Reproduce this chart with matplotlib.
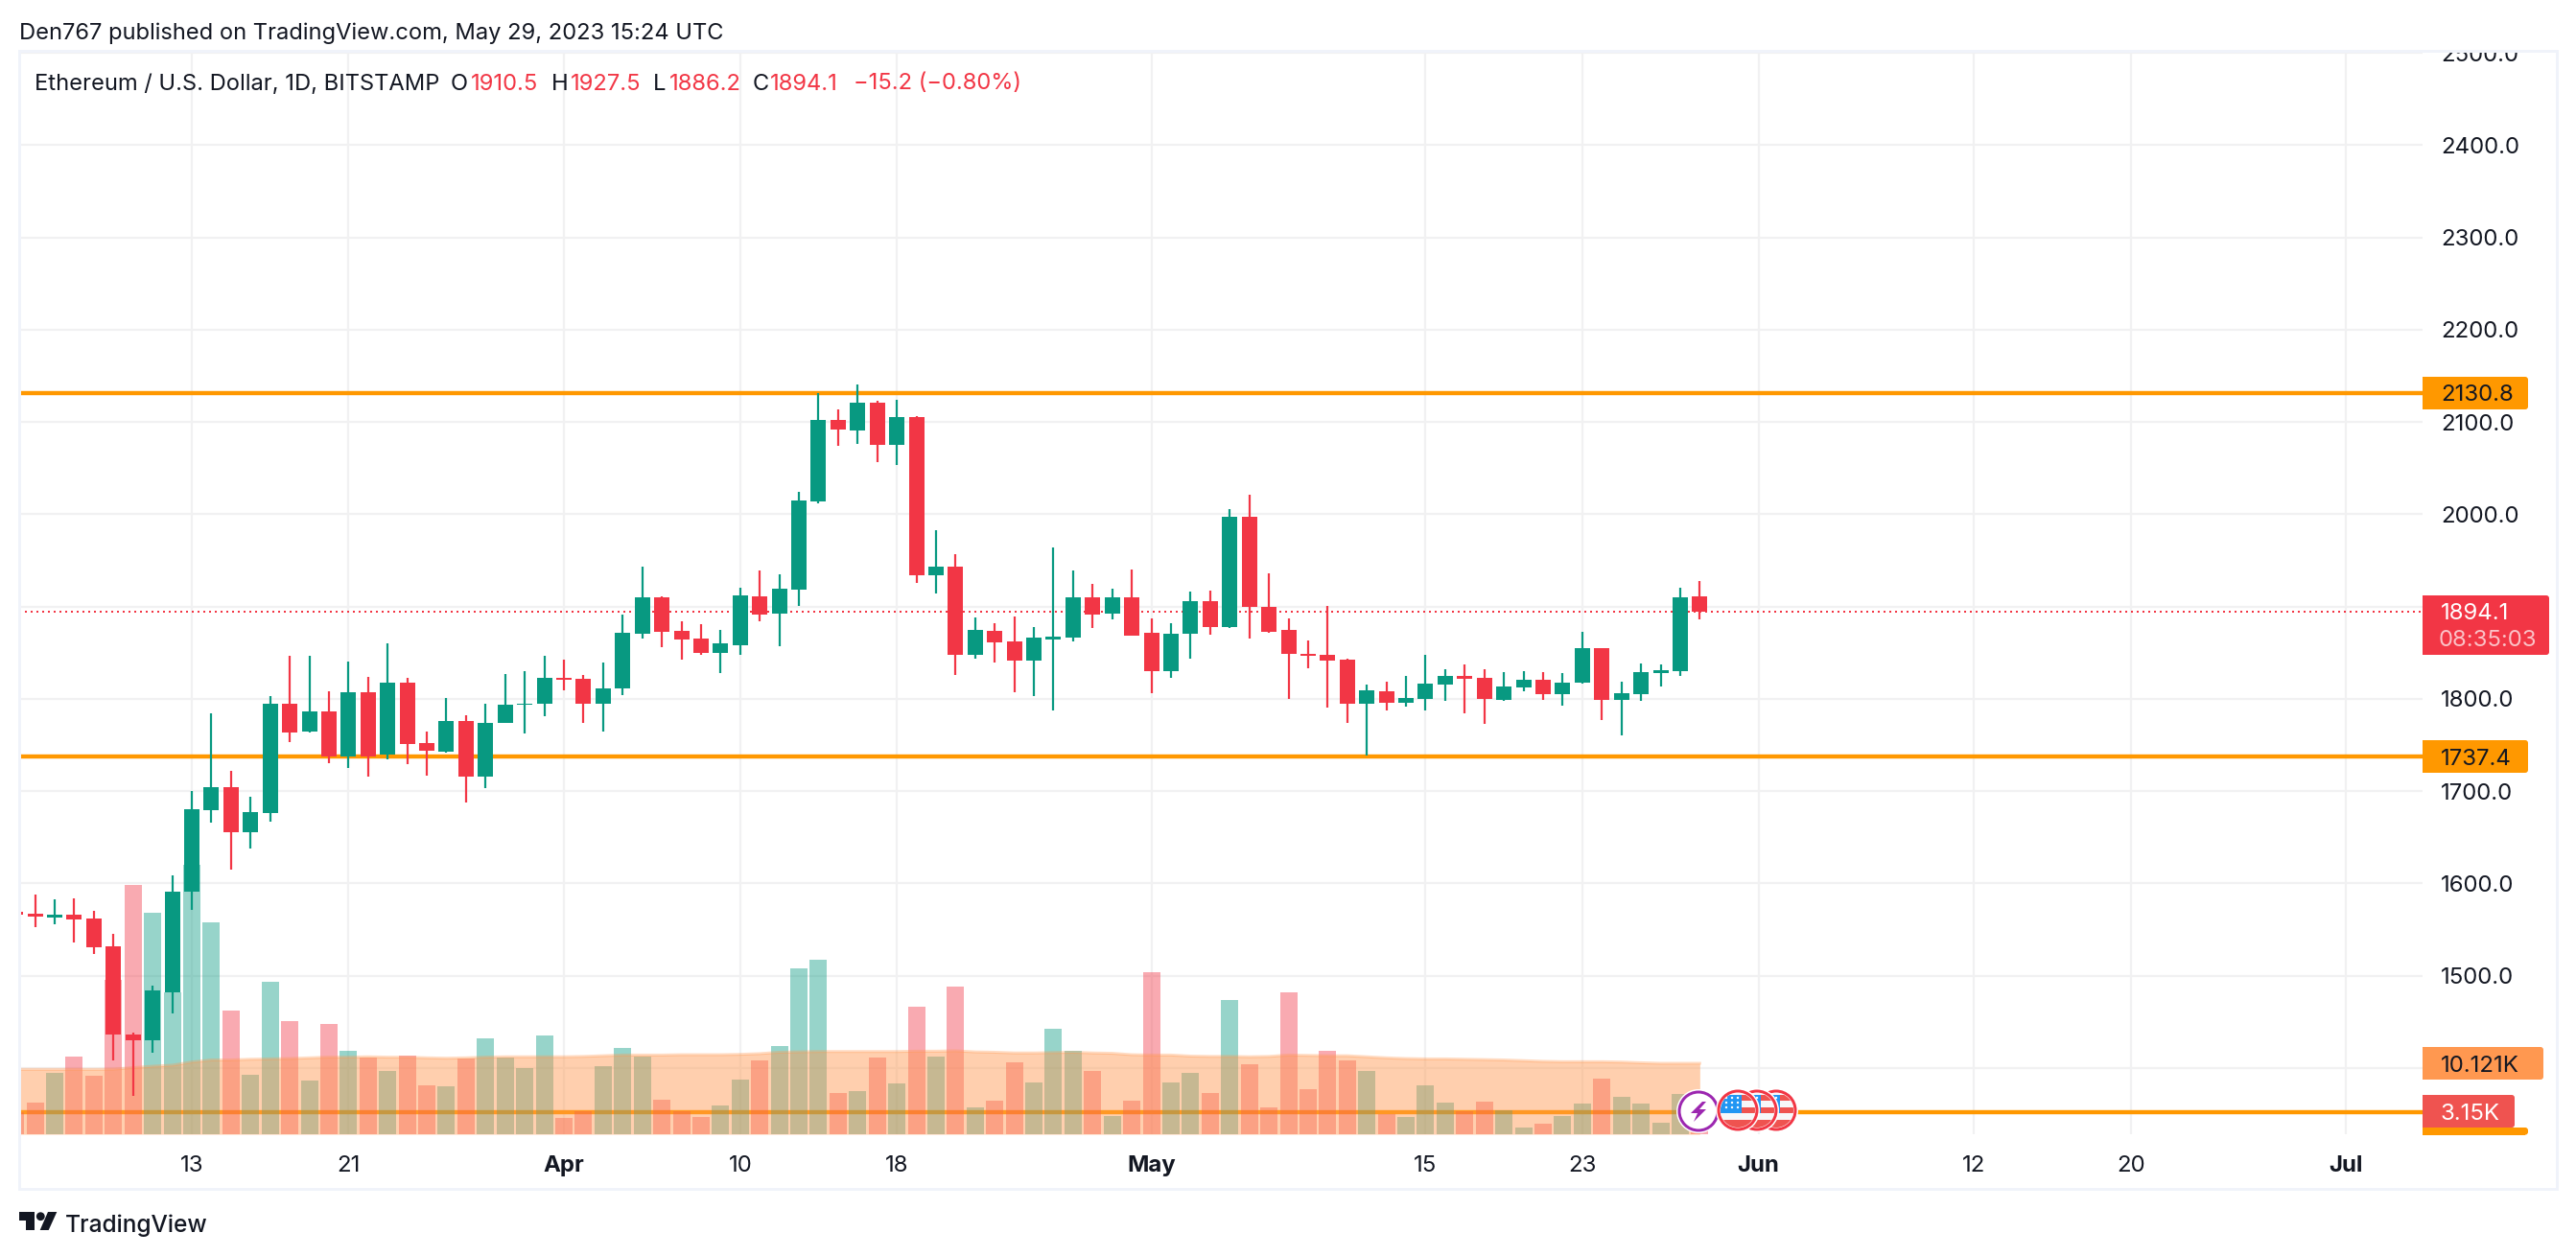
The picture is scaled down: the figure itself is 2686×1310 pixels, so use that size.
from matplotlib import pyplot as plt
from matplotlib.patches import Rectangle, Circle, Polygon, FancyBboxPatch

plt.rcParams['font.family'] = ['Inter', 'DejaVu Sans']

# days counted from Mar 1 2023
first_day = 3
opens = [1569, 1567, 1563, 1566, 1562, 1532, 1436, 1430, 1482, 1591,
         1679, 1704, 1655, 1676, 1795, 1764, 1786, 1737, 1807, 1739,
         1817, 1752, 1743, 1776, 1716, 1774, 1793, 1795, 1823, 1822,
         1795, 1811, 1870, 1910, 1874, 1865, 1850, 1858, 1911, 1892,
         1918, 2014, 2102, 2091, 2121, 2075, 2105, 1934, 1943, 1848,
         1874, 1862, 1841, 1864, 1866, 1910, 1892, 1910, 1871, 1830,
         1870, 1906, 1878, 1997, 1900, 1875, 1849, 1848, 1842, 1795,
         1808, 1796, 1800, 1815, 1825, 1823, 1799, 1812, 1821, 1805,
         1817, 1855, 1799, 1805, 1828, 1830, 1910.5]
highs = [1572, 1588, 1583, 1584, 1570, 1545, 1438, 1489, 1609, 1700,
         1784, 1722, 1694, 1803, 1846, 1846, 1808, 1840, 1824, 1860,
         1823, 1764, 1801, 1782, 1795, 1827, 1830, 1846, 1842, 1826,
         1839, 1891, 1943, 1911, 1884, 1881, 1875, 1920, 1939, 1935,
         2024, 2131, 2113, 2141, 2123, 2124, 2106, 1983, 1957, 1888,
         1882, 1889, 1878, 1964, 1939, 1924, 1919, 1940, 1887, 1882,
         1916, 1917, 2005, 2021, 1936, 1887, 1863, 1901, 1843, 1815,
         1818, 1825, 1848, 1832, 1837, 1832, 1829, 1830, 1829, 1828,
         1872, 1855, 1818, 1838, 1837, 1920, 1927.5]
lows = [1562, 1552, 1556, 1536, 1523, 1408, 1370, 1416, 1459, 1571,
        1666, 1615, 1638, 1667, 1753, 1763, 1730, 1725, 1716, 1734,
        1729, 1717, 1742, 1688, 1703, 1774, 1762, 1781, 1809, 1774,
        1764, 1804, 1865, 1856, 1842, 1848, 1828, 1848, 1884, 1857,
        1901, 2012, 2074, 2076, 2056, 2053, 1925, 1914, 1826, 1843,
        1839, 1807, 1803, 1787, 1862, 1877, 1886, 1868, 1806, 1823,
        1843, 1869, 1877, 1865, 1871, 1800, 1833, 1790, 1774, 1738,
        1787, 1791, 1787, 1798, 1784, 1773, 1798, 1808, 1799, 1792,
        1816, 1777, 1760, 1798, 1813, 1825, 1886.2]
closes = [1566, 1564, 1566, 1561, 1531, 1436, 1430, 1484, 1591, 1680,
          1704, 1655, 1677, 1795, 1763, 1786, 1737, 1807, 1737, 1817,
          1751, 1744, 1776, 1716, 1774, 1793, 1795, 1823, 1821, 1795,
          1811, 1871, 1910, 1872, 1864, 1850, 1860, 1912, 1891, 1919,
          2015, 2102, 2092, 2121, 2075, 2105, 1934, 1943, 1848, 1875,
          1861, 1841, 1866, 1867, 1910, 1891, 1910, 1868, 1830, 1870,
          1906, 1878, 1997, 1899, 1872, 1849, 1847, 1841, 1795, 1809,
          1796, 1801, 1816, 1825, 1822, 1800, 1813, 1821, 1805, 1817,
          1855, 1799, 1806, 1829, 1831, 1910, 1894.1]
volumes = [3.1, 4.47, 8.71, 11.03, 8.3, 21.98, 35.5, 31.6, 20.2, 38.4,
           30.3, 17.6, 8.44, 21.7, 16.1, 7.6, 15.7, 11.86, 10.9, 8.98,
           11.17, 6.93, 6.79, 10.76, 13.63, 10.9, 9.39, 14.04, 2.28, 3.24,
           9.67, 12.27, 11.03, 4.88, 3.24, 2.42, 4.06, 7.75, 10.6, 12.54,
           23.6, 24.85, 5.84, 6.11, 10.9, 7.2, 18.15, 11.03, 21.0, 3.78,
           4.74, 10.2, 7.34, 15.0, 11.86, 8.98, 2.55, 4.74, 23.07, 7.34,
           8.71, 5.84, 19.1, 9.94, 3.78, 20.2, 6.38, 11.86, 10.49, 8.98,
           2.83, 2.42, 6.93, 4.47, 3.24, 4.6, 3.37, 0.91, 1.46, 2.55,
           4.33, 7.89, 5.29, 4.33, 1.6, 5.7, 3.15]
vol_ma = [9.26, 9.26, 9.26, 9.26, 9.26, 9.28, 9.5, 9.7, 9.85, 10.3,
          10.6, 10.6, 10.7, 10.75, 10.8, 10.9, 11.0, 11.0, 11.05, 11.0,
          11.0, 10.9, 10.85, 10.9, 11.0, 11.05, 11.05, 11.05, 11.05, 11.1,
          11.2, 11.3, 11.3, 11.3, 11.35, 11.35, 11.35, 11.4, 11.5, 11.7,
          11.75, 11.8, 11.8, 11.8, 11.8, 11.8, 11.85, 11.85, 11.9, 11.75,
          11.7, 11.6, 11.6, 11.65, 11.7, 11.6, 11.55, 11.35, 11.3, 11.3,
          11.15, 11.1, 11.1, 11.05, 11.1, 11.3, 11.25, 11.2, 11.2, 11.05,
          10.9, 10.8, 10.75, 10.75, 10.7, 10.65, 10.6, 10.5, 10.4, 10.35,
          10.35, 10.35, 10.3, 10.2, 10.12, 10.12, 10.121]
days = list(range(first_day, first_day + len(closes)))

level_lines = [2130.8, 1737.4, 1352]
price_ticks = [2500, 2400, 2300, 2200, 2100, 2000, 1800, 1700, 1600, 1500]
grid_prices = [1400, 1500, 1600, 1700, 1800, 1900, 2000, 2100, 2200, 2300, 2400, 2500]
date_ticks = [12, 20, 31, 40, 48, 61, 75, 83, 92, 103, 111, 122]
date_labels = ['13', '21', 'Apr', '10', '18', 'May', '15', '23', 'Jun', '12', '20', 'Jul']
month_labels = ['Apr', 'May', 'Jun', 'Jul']

GREEN = '#089981'
RED = '#F23645'
ORANGE = '#FF9800'
MA_COL = '#FF9850'
INK = '#131722'
W, H = 2686, 1310
PX = 0.72  # points per pixel at dpi 100

# chart pane in pixels
L, R, T, B = 20, 2526, 53, 1183
day_lim = (12 + (L - 200) / 20.42, 12 + (R - 200) / 20.42)
price_lim = (2100 - (B - 440) / 0.9625, 2100 - (T - 440) / 0.9625)
vol_lim = (0, (B - T) / 7.31)

fig = plt.figure(figsize=(W / 100, H / 100), dpi=100, facecolor='white')
pane = [L / W, 1 - B / H, (R - L) / W, (B - T) / H]

ax_bg = fig.add_axes(pane, zorder=1)
ax_vol = fig.add_axes(pane, zorder=2)
ax = fig.add_axes(pane, zorder=3)
for a in (ax_bg, ax_vol, ax):
	a.set_xlim(day_lim)
	for s in a.spines.values():
		s.set_visible(False)
ax_bg.set_ylim(price_lim)
ax.set_ylim(price_lim)
ax_vol.set_ylim(vol_lim)
ax_vol.patch.set_alpha(0)
ax.patch.set_alpha(0)
ax_vol.set_xticks([])
ax_vol.set_yticks([])
ax.set_xticks([])
ax.set_yticks([])

# background: grid, level lines, last price
ax_bg.set_yticks(grid_prices)
ax_bg.set_yticklabels([])
ax_bg.set_xticks(date_ticks)
ax_bg.set_xticklabels(date_labels, fontsize=24 * PX, color=INK)
for lab in ax_bg.get_xticklabels():
	if lab.get_text() in month_labels:
		lab.set_fontweight('bold')
ax_bg.tick_params(length=0, pad=22 * PX)
ax_bg.tick_params(axis='y', left=False)
ax_bg.grid(True, color='#F1F1F2', lw=2.2 * PX)
ax_bg.set_axisbelow(True)
for lvl in level_lines:
	ax_bg.axhline(lvl, color=ORANGE, lw=4.4 * PX, zorder=3)
ax_bg.axhline(closes[-1], color=RED, lw=2 * PX, ls=(0, (1, 2)), zorder=4)

# volume and its average
vol_cols = [GREEN if c >= o else RED for o, c in zip(opens, closes)]
ax_vol.bar(days, volumes, width=18 / 20.42, color=vol_cols, alpha=0.42, lw=0)
ax_vol.fill_between(days, vol_ma, 0, color=MA_COL, alpha=0.46, lw=0)
ax_vol.plot(days, vol_ma, color=MA_COL, alpha=0.35, lw=3 * PX)

# candles
for d, o, h, l, c in zip(days, opens, highs, lows, closes):
	col = GREEN if c >= o else RED
	ax.vlines(d, l, h, color=col, lw=2.2 * PX)
	ax.bar(d, abs(c - o), bottom=min(o, c), width=16 / 20.42, color=col, lw=0)

# price scale, clipped at the top of the pane like the original
ax_scale = fig.add_axes([R / W, 1 - B / H, (2666 - R) / W, (B - T) / H], zorder=4)
ax_scale.set_xlim(R, 2666)
ax_scale.set_ylim(price_lim)
ax_scale.axis('off')
for p in price_ticks:
	ax_scale.text(2545, p, f'{p:.1f}', fontsize=24 * PX, color=INK, va='center_baseline', ha='left', clip_on=True)

# overlay in pixels for labels, frame, logo and event icons
ov = fig.add_axes([0, 0, 1, 1], zorder=10)
ov.set_xlim(0, W)
ov.set_ylim(H, 0)
ov.axis('off')
ov.patch.set_alpha(0)


def tag(x1, y1, x2, y2, col):
	ov.add_patch(Rectangle((x1, y1), x2 - x1 - 3, y2 - y1, color=col, lw=0))
	ov.add_patch(FancyBboxPatch((x2 - 8, y1 + 3), 5, y2 - y1 - 6, boxstyle='round,pad=3', color=col, lw=0))


def ptxt(x, y, s, col=INK, size=24, **kw):
	ov.text(x, y, s, fontsize=size * PX, color=col, va='center_baseline', ha='left', **kw)


ov.add_patch(Rectangle((20, 53), 2646, 1187, fill=False, ec='#F0F3FA', lw=3 * PX))

tag(2526, 1176, 2636, 1183.6, ORANGE)
tag(2526, 393, 2636, 427, ORANGE)
ptxt(2545, 410, '2130.8')
tag(2526, 772, 2636, 806, ORANGE)
ptxt(2545, 789, '1737.4')
tag(2526, 621, 2658, 683, RED)
ptxt(2545, 638, '1894.1', 'white')
ptxt(2543, 666, '08:35:03', '#FBC2C7')
tag(2526, 1092, 2652, 1126, MA_COL)
ptxt(2545, 1109, '10.121K')
tag(2526, 1142, 2622, 1176, '#EF5350')
ptxt(2545, 1159, '3.15K', 'white')

# header
ptxt(20, 32, 'Den767 published on TradingView.com, May 29, 2023 15:24 UTC', size=23.7)
ptxt(36, 85, 'Ethereum / U.S. Dollar, 1D, BITSTAMP', size=23.7)
for x, s in [(470, 'O'), (575, 'H'), (681, 'L'), (785, 'C')]:
	ptxt(x, 85, s, size=23.7)
for x, s in [(491, '1910.5'), (595, '1927.5'), (698, '1886.2'), (803, '1894.1'), (890, '−15.2 (−0.80%)')]:
	ptxt(x, 85, s, RED, size=23.7)

# TradingView logo
ov.add_patch(Polygon([(20, 1264), (36, 1264), (36, 1283), (27, 1283), (27, 1273), (20, 1273)], color=INK, lw=0))
ov.add_patch(Circle((42.3, 1268.7), 4.4, color=INK, lw=0))
ov.add_patch(Polygon([(50, 1264), (59.3, 1264), (50.7, 1283), (41.7, 1283)], color=INK, lw=0))
ptxt(68, 1276, 'TradingView', size=24.5, fontweight='medium')

# event icons
ov.add_patch(Circle((1771, 1159), 23, color='white', lw=0))
ov.add_patch(Circle((1771, 1159), 20, fc='white', ec='#9C27B0', lw=3 * PX))
ov.add_patch(Polygon([(1775, 1149), (1763, 1161), (1770, 1161), (1766, 1170), (1779, 1157), (1772, 1157), (1779, 1149)],
                     color='#9C27B0', lw=0))
for cx in [1852, 1832, 1812]:
	ov.add_patch(Circle((cx, 1158), 23, color='white', lw=0))
	disc = Circle((cx, 1158), 18, fc='#F7F7F9', ec='none')
	ov.add_patch(disc)
	for y0, hgt in [(1142, 6), (1155, 6), (1168, 12)]:
		ov.add_patch(Rectangle((cx - 20, y0), 40, hgt, color='#EF5350', lw=0, clip_path=disc))
	ov.add_patch(Rectangle((cx - 20, 1142), 24, 19, color='#2196F3', lw=0, clip_path=disc))
	for sx in [-12, -6, 0]:
		for sy in [-13, -8, -3]:
			ov.add_patch(Circle((cx + sx, 1158 + sy), 1.2, color='white', lw=0))
	ov.add_patch(Circle((cx, 1158), 20, fill=False, ec=RED, lw=3 * PX))

fig.savefig('out.png', dpi=100)
